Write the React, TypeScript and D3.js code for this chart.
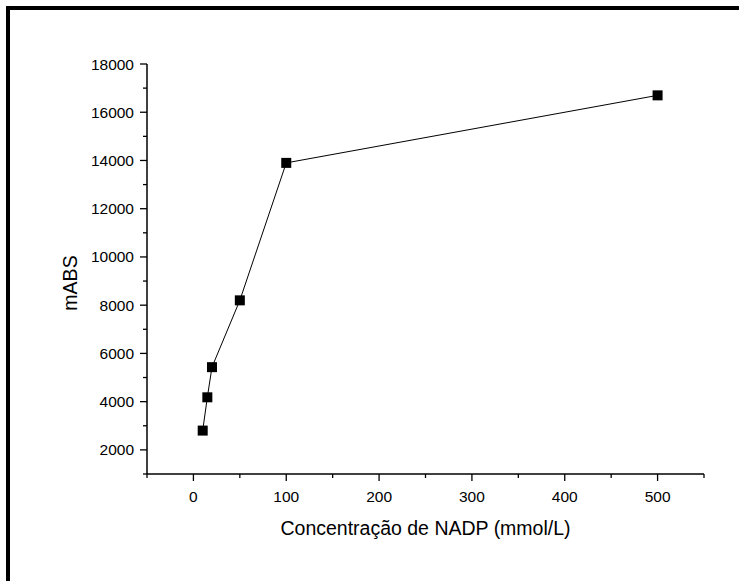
import React from "react";
import * as d3 from "d3";

const concentrations = [10, 15, 20, 50, 100, 500];
const absValues = [2800, 4180, 5430, 8200, 13900, 16700];
const xTicks = [0, 100, 200, 300, 400, 500];
const xMinorTicks = [-50, 50, 150, 250, 350, 450, 550];
const yTicks = [2000, 4000, 6000, 8000, 10000, 12000, 14000, 16000, 18000];
const yMinorTicks = [1000, 3000, 5000, 7000, 9000, 11000, 13000, 15000, 17000];
const xTitle = "Concentração de NADP (mmol/L)";
const yTitle = "mABS";

const W = 739;
const H = 581;
const left = 147;
const right = 704;
const top = 64;
const bottom = 474;
const font = "'Liberation Sans', Arial, Helvetica, sans-serif";

export default function App() {
  const x = d3.scaleLinear().domain([-50, 550]).range([left, right]);
  const y = d3.scaleLinear().domain([1000, 18000]).range([bottom, top]);
  const data = concentrations.map((c, i) => ({ c, v: absValues[i] }));
  const line = d3
    .line<{ c: number; v: number }>()
    .x((d) => x(d.c))
    .y((d) => y(d.v));
  const ms = 10;

  return (
    <svg
      width={W}
      height={H}
      style={{ position: "absolute", left: 0, top: 0, background: "#fff" }}
      fontFamily={font}
    >
      <rect x={0} y={0} width={W} height={H} fill="#fff" />
      {/* frame */}
      <line x1={6} x2={W} y1={8} y2={8} stroke="#000" strokeWidth={4} />
      <line x1={8} x2={8} y1={6} y2={H} stroke="#000" strokeWidth={4} />

      {/* axes */}
      <line x1={left} x2={left} y1={y(18000)} y2={bottom} stroke="#000" strokeWidth={1.5} />
      <line x1={left} x2={right} y1={bottom} y2={bottom} stroke="#000" strokeWidth={1.5} />

      {yTicks.map((t) => (
        <g key={"y" + t}>
          <line x1={left - 7} x2={left} y1={y(t)} y2={y(t)} stroke="#000" strokeWidth={1.3} />
          <text x={left - 13} y={y(t) + 5.5} fontSize={15.5} textAnchor="end" fill="#000">
            {t}
          </text>
        </g>
      ))}
      {yMinorTicks.map((t) => (
        <line key={"ym" + t} x1={left - 4} x2={left} y1={y(t)} y2={y(t)} stroke="#000" strokeWidth={1.3} />
      ))}

      {xTicks.map((t) => (
        <g key={"x" + t}>
          <line x1={x(t)} x2={x(t)} y1={bottom} y2={bottom + 7} stroke="#000" strokeWidth={1.3} />
          <text x={x(t)} y={501.5} fontSize={15.5} textAnchor="middle" fill="#000">
            {t}
          </text>
        </g>
      ))}
      {xMinorTicks.map((t) => (
        <line key={"xm" + t} x1={x(t)} x2={x(t)} y1={bottom} y2={bottom + 4} stroke="#000" strokeWidth={1.3} />
      ))}

      <text x={(left + right) / 2} y={535} fontSize={19.5} textAnchor="middle" fill="#000">
        {xTitle}
      </text>
      <text
        transform={`translate(77, ${(top + bottom) / 2 + 14}) rotate(-90)`}
        fontSize={19.5}
        textAnchor="middle"
        fill="#000"
      >
        {yTitle}
      </text>

      <path d={line(data) || ""} fill="none" stroke="#000" strokeWidth={1} />
      {data.map((d, i) => (
        <rect
          key={i}
          x={x(d.c) - ms / 2}
          y={y(d.v) - ms / 2}
          width={ms}
          height={ms}
          fill="#000"
        />
      ))}
    </svg>
  );
}
